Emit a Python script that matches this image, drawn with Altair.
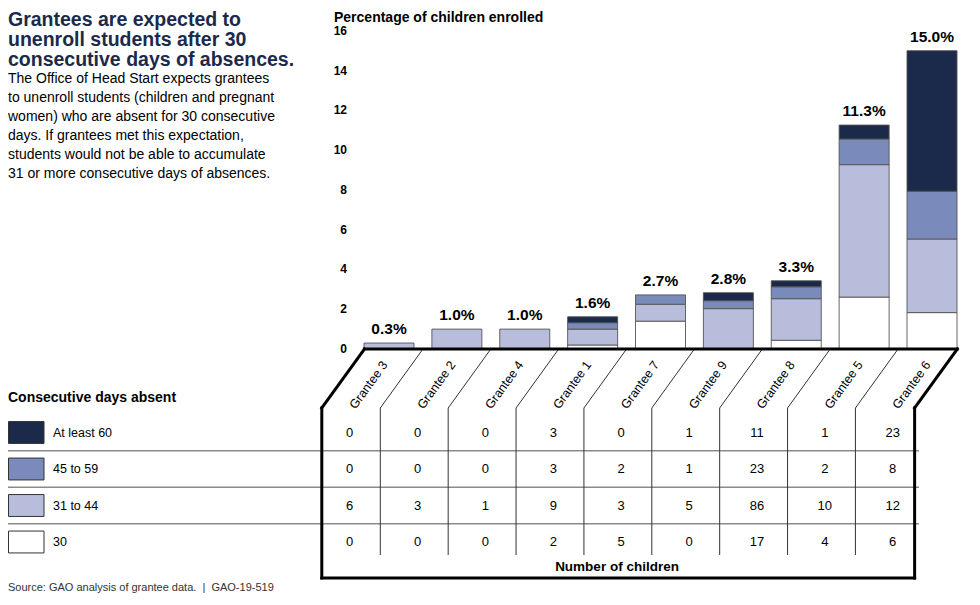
import altair as alt
import pandas as pd

# ---------------- data ----------------
grantees = ["Grantee 3", "Grantee 2", "Grantee 4", "Grantee 1", "Grantee 7",
            "Grantee 9", "Grantee 8", "Grantee 5", "Grantee 6"]
categories = ["At least 60", "45 to 59", "31 to 44", "30"]
colors = ["#1b294b", "#7a8bbb", "#b8bddb", "#ffffff"]

# percentage of children enrolled, per segment
pct_30 = [0, 0, 0, 0.20, 1.40, 0, 0.44, 2.61, 1.83]
pct_31_44 = [0.30, 1.00, 1.00, 0.80, 0.85, 2.03, 2.09, 6.66, 3.70]
pct_45_59 = [0, 0, 0, 0.32, 0.47, 0.40, 0.60, 1.29, 2.40]
pct_60 = [0, 0, 0, 0.30, 0, 0.40, 0.30, 0.70, 7.07]
total_labels = ["0.3%", "1.0%", "1.0%", "1.6%", "2.7%", "2.8%", "3.3%", "11.3%", "15.0%"]

# number of children (table)
n_60 = [0, 0, 0, 3, 0, 1, 11, 1, 23]
n_45_59 = [0, 0, 0, 3, 2, 1, 23, 2, 8]
n_31_44 = [6, 3, 1, 9, 3, 5, 86, 10, 12]
n_30 = [0, 0, 0, 2, 5, 0, 17, 4, 6]

y_ticks = [0, 2, 4, 6, 8, 10, 12, 14, 16]

title_lines = ["Grantees are expected to", "unenroll students after 30",
               "consecutive days of absences."]
body_lines = ["The Office of Head Start expects grantees",
              "to unenroll students (children and pregnant",
              "women) who are absent for 30 consecutive",
              "days. If grantees met this expectation,",
              "students would not be able to accumulate",
              "31 or more consecutive days of absences."]
source_text = "Source: GAO analysis of grantee data.\u00a0 |\u00a0 GAO-19-519"

# ---------------- tables ----------------
seg_pct = {"30": pct_30, "31 to 44": pct_31_44, "45 to 59": pct_45_59, "At least 60": pct_60}
seg_n = {"At least 60": n_60, "45 to 59": n_45_59, "31 to 44": n_31_44, "30": n_30}
stack_order = {"30": 0, "31 to 44": 1, "45 to 59": 2, "At least 60": 3}

bar_rows = []
for cat, vals in seg_pct.items():
    for i, g in enumerate(grantees):
        if vals[i] > 0:
            bar_rows.append({"grantee": g, "idx": i, "category": cat,
                             "pct": vals[i], "order": stack_order[cat]})
bars_df = pd.DataFrame(bar_rows)

tops = [pct_30[i] + pct_31_44[i] + pct_45_59[i] + pct_60[i] for i in range(len(grantees))]
labels_df = pd.DataFrame({"idx": range(len(grantees)), "top": tops, "label": total_labels,
                          "grantee": grantees})

table_rows = []
for r, cat in enumerate(categories):
    for i, g in enumerate(grantees):
        table_rows.append({"idx": i, "row": r, "n": str(seg_n[cat][i])})
table_df = pd.DataFrame(table_rows)

legend_df = pd.DataFrame({"category": categories, "row": range(len(categories))})
legend_df["r0"] = legend_df["row"] - 0.3
legend_df["r1"] = legend_df["row"] + 0.3
rowlines_df = pd.DataFrame({"r": [0.5, 1.5, 2.5]})
ticks_df = pd.DataFrame({"t": y_ticks})

# ---------------- layout (frame decoration) ----------------
FONT = "Liberation Sans, Arial, sans-serif"
AXIS_Y, DIAG_Y, SEP_Y, BOT_Y = 341, 400, 547, 570    # pixel rows of the frame
SHIFT = 0.628                                         # slant of the diagonals, in columns
LEFT_T, RIGHT_T = -0.362, 8.372
LEFT_B, RIGHT_B = LEFT_T - SHIFT, RIGHT_T - SHIFT

sep_df = pd.DataFrame({"xt": [i + 0.5 for i in range(8)]})
sep_df["xb"] = sep_df["xt"] - SHIFT
border_df = pd.DataFrame([
    {"x": LEFT_T, "x2": RIGHT_T, "y": AXIS_Y, "y2": AXIS_Y},
    {"x": LEFT_T, "x2": LEFT_B, "y": AXIS_Y, "y2": DIAG_Y},
    {"x": LEFT_B, "x2": LEFT_B, "y": DIAG_Y, "y2": BOT_Y},
    {"x": LEFT_B, "x2": RIGHT_B, "y": BOT_Y, "y2": BOT_Y},
    {"x": RIGHT_B, "x2": RIGHT_B, "y": DIAG_Y, "y2": BOT_Y},
    {"x": RIGHT_T, "x2": RIGHT_B, "y": AXIS_Y, "y2": DIAG_Y},
])

xs = alt.Scale(domain=[0, 8], range=[376, 929])
ys = alt.Scale(domain=[0, 16], range=[341, 22.8])
ys_table = alt.Scale(domain=[0, 3], range=[424.5, 534])
ys_px = alt.Scale(domain=[0, 585], range=[0, 585])
color_scale = alt.Scale(domain=categories, range=colors)
one = pd.DataFrame({"a": [0]})

# ---------------- layers ----------------
rowlines = alt.Chart(rowlines_df).mark_rule(color="#8a8a8a", strokeWidth=1.5).encode(
    x=alt.value(0), x2=alt.value(911),
    y=alt.Y("r:Q", scale=ys_table, axis=None))

bars = alt.Chart(bars_df).transform_stack(
    stack="pct", groupby=["grantee"], sort=[alt.SortField("order")], as_=["y0", "y1"]
).mark_bar(size=50, stroke="#555555", strokeWidth=0.9).encode(
    x=alt.X("idx:Q", scale=xs, axis=None),
    y=alt.Y("y0:Q", scale=ys, axis=None),
    y2="y1:Q",
    color=alt.Color("category:N", scale=color_scale, legend=None))

pct_labels = alt.Chart(labels_df).mark_text(
    dy=-14, font=FONT, fontSize=15.5, fontWeight="bold", color="#000").encode(
    x=alt.X("idx:Q", scale=xs, axis=None),
    y=alt.Y("top:Q", scale=ys, axis=None),
    text="label:N")

tick_labels = alt.Chart(ticks_df).mark_text(
    align="right", baseline="middle", font=FONT, fontSize=12, fontWeight="bold", color="#000"
).encode(x=alt.value(339), y=alt.Y("t:Q", scale=ys, axis=None), text="t:Q")

y_title = alt.Chart(one).mark_text(
    text="Percentage of children enrolled", align="left", baseline="alphabetic",
    font=FONT, fontSize=14, fontWeight="bold", color="#000"
).encode(x=alt.value(326), y=alt.value(13.5))

separators = alt.Chart(sep_df).mark_rule(color="#333", strokeWidth=1).encode(
    x=alt.X("xt:Q", scale=xs, axis=None), x2="xb:Q",
    y=alt.value(AXIS_Y), y2=alt.value(DIAG_Y))
verticals = alt.Chart(sep_df).mark_rule(color="#333", strokeWidth=1).encode(
    x=alt.X("xb:Q", scale=xs, axis=None),
    y=alt.value(DIAG_Y), y2=alt.value(SEP_Y))

border = alt.Chart(border_df).mark_rule(color="#000", strokeWidth=3, strokeCap="square").encode(
    x=alt.X("x:Q", scale=xs, axis=None), x2="x2:Q",
    y=alt.Y("y:Q", scale=ys_px, axis=None), y2="y2:Q")

rot_labels = alt.Chart(labels_df).transform_calculate(xl="datum.idx - 0.3").mark_text(
    angle=306, align="center", baseline="middle", font=FONT, fontSize=12.5, color="#000"
).encode(x=alt.X("xl:Q", scale=xs, axis=None), y=alt.value(377), text="grantee:N")

table_text = alt.Chart(table_df).transform_calculate(xn="datum.idx - 0.58").mark_text(
    align="center", baseline="middle", font=FONT, fontSize=13, color="#000"
).encode(x=alt.X("xn:Q", scale=xs, axis=None),
         y=alt.Y("row:Q", scale=ys_table, axis=None), text="n:N")

n_title = alt.Chart(one).mark_text(
    text="Number of children", align="center", baseline="middle",
    font=FONT, fontSize=13.5, fontWeight="bold", color="#000"
).encode(x=alt.value(609), y=alt.value(559))

swatches = alt.Chart(legend_df).mark_rect(stroke="#333", strokeWidth=1).encode(
    x=alt.value(0.5), x2=alt.value(36),
    y=alt.Y("r0:Q", scale=ys_table, axis=None), y2="r1:Q",
    color=alt.Color("category:N", scale=color_scale, legend=None))
swatch_labels = alt.Chart(legend_df).mark_text(
    align="left", baseline="middle", font=FONT, fontSize=12.5, color="#000"
).encode(x=alt.value(45), y=alt.Y("row:Q", scale=ys_table, axis=None), text="category:N")
legend_title = alt.Chart(one).mark_text(
    text="Consecutive days absent", align="left", baseline="middle",
    font=FONT, fontSize=14, fontWeight="bold", color="#000"
).encode(x=alt.value(0), y=alt.value(390))

main_title = alt.Chart(one).mark_text(
    text=title_lines, align="left", baseline="alphabetic", lineHeight=20,
    font=FONT, fontSize=19.5, fontWeight="bold", color="#1b2a4b"
).encode(x=alt.value(0), y=alt.value(18))
body = alt.Chart(one).mark_text(
    text=body_lines, align="left", baseline="alphabetic", lineHeight=19,
    font=FONT, fontSize=14, color="#000"
).encode(x=alt.value(0), y=alt.value(75))
source = alt.Chart(one).mark_text(
    text=source_text, align="left", baseline="alphabetic",
    font=FONT, fontSize=11, color="#333"
).encode(x=alt.value(0), y=alt.value(583))

chart = alt.layer(
    rowlines, bars, pct_labels, tick_labels, y_title, separators, verticals, border,
    rot_labels, table_text, n_title, swatches, swatch_labels, legend_title,
    main_title, body, source
).resolve_scale(y="independent").properties(
    width=960, height=585, padding=0,
    autosize=alt.AutoSizeParams(type="none")
).configure_view(stroke=None)

chart.save("out.html", embed_options={"renderer": "svg", "actions": False})
